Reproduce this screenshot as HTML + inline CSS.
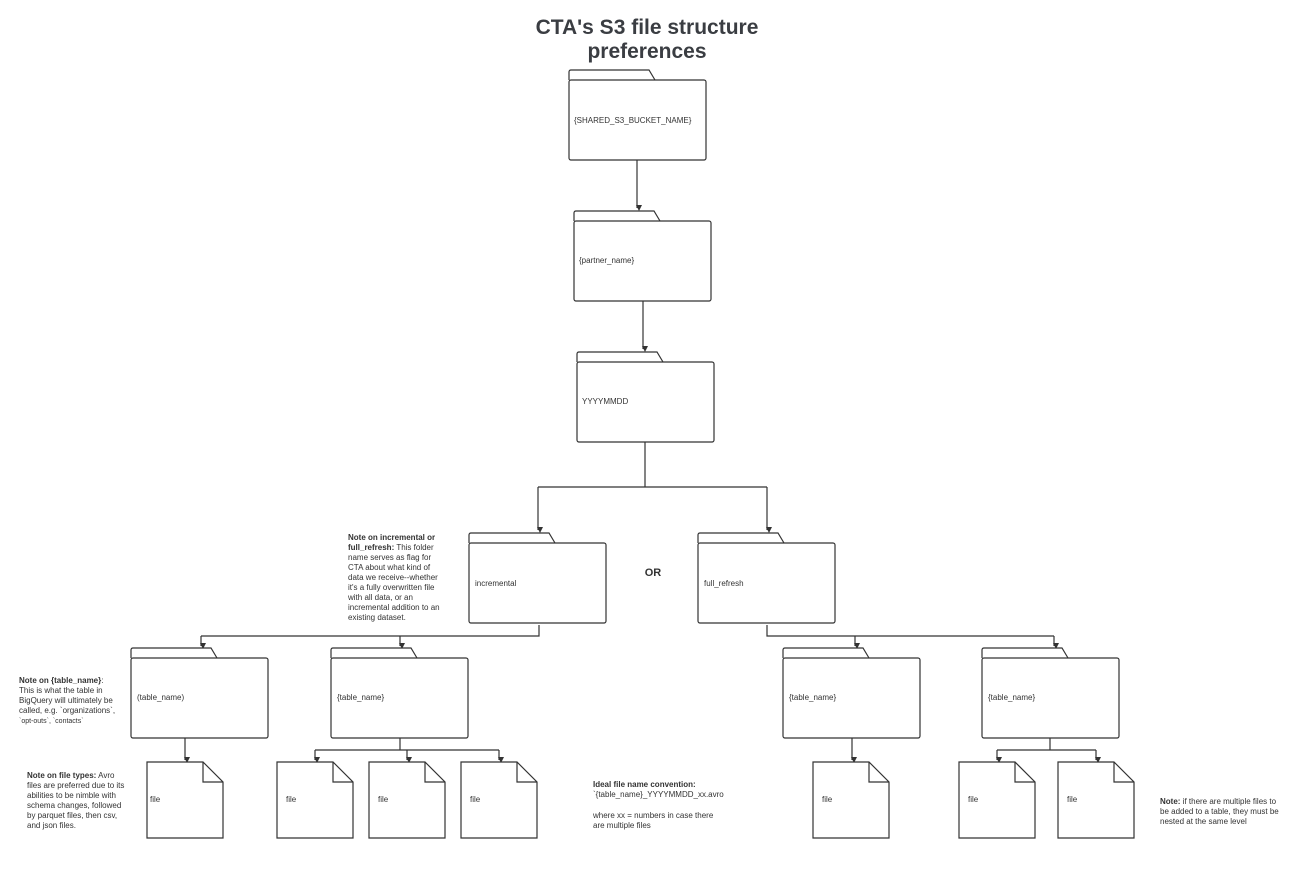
<!DOCTYPE html>
<html><head><meta charset="utf-8"><style>
body{margin:0;background:#fff;}
svg{display:block;font-family:"Liberation Sans",Arial,sans-serif;}
.f{fill:#fff;stroke:#333;stroke-width:1.2;}
.l{fill:none;stroke:#333;stroke-width:1.2;}
.t{font-size:8px;fill:#333;}
.n{font-size:8px;fill:#333;}
</style></head><body>
<svg width="1294" height="875" viewBox="0 0 1294 875" xmlns="http://www.w3.org/2000/svg">
<defs>
<marker id="a" markerWidth="8" markerHeight="8" refX="4" refY="6" orient="auto" markerUnits="userSpaceOnUse" viewBox="0 0 8 8">
<path d="M1,1 L4,7 L7,1 Z" fill="#333" transform="rotate(-90 4 4)"/>
</marker>
<g id="folder">
<path class="f" d="M0,10 L0,2 Q0,0 2,0 L80,0 L86,10"/>
<rect class="f" x="0" y="10" width="137" height="80" rx="2"/>
</g>
<g id="file">
<path class="f" d="M0,0 L56,0 L76,20 L76,76 L0,76 Z"/>
<path class="l" d="M56,0 L56,20 L76,20"/>
</g>
</defs>
<text x="647" y="34" text-anchor="middle" font-size="21" font-weight="bold" fill="#3a3d42">CTA's S3 file structure</text>
<text x="647" y="58" text-anchor="middle" font-size="21" font-weight="bold" fill="#3a3d42">preferences</text>

<!-- connectors -->
<g class="l">
<path d="M637,160 V208" marker-end="url(#a)"/>
<path d="M643,301 V349" marker-end="url(#a)"/>
<path d="M645,442 V487 M538,487 H767"/>
<path d="M538,487 V530" marker-end="url(#a)"/>
<path d="M767,487 V530" marker-end="url(#a)"/>
<path d="M539,625 V636 H201"/>
<path d="M201,636 V646" marker-end="url(#a)"/>
<path d="M400,636 V646" marker-end="url(#a)"/>
<path d="M767,625 V636 H1054"/>
<path d="M855,636 V646" marker-end="url(#a)"/>
<path d="M1054,636 V646" marker-end="url(#a)"/>
<path d="M185,738 V760" marker-end="url(#a)"/>
<path d="M400,738 V750 M315,750 H499"/>
<path d="M315,750 V760" marker-end="url(#a)"/>
<path d="M407,750 V760" marker-end="url(#a)"/>
<path d="M499,750 V760" marker-end="url(#a)"/>
<path d="M852,738 V760" marker-end="url(#a)"/>
<path d="M1050,738 V750 M997,750 H1096"/>
<path d="M997,750 V760" marker-end="url(#a)"/>
<path d="M1096,750 V760" marker-end="url(#a)"/>
</g>

<!-- folders -->
<use href="#folder" x="569" y="70"/><text class="t" x="574" y="123">{SHARED_S3_BUCKET_NAME}</text>
<use href="#folder" x="574" y="211"/><text class="t" x="579" y="263">{partner_name}</text>
<use href="#folder" x="577" y="352"/><text class="t" x="582" y="404">YYYYMMDD</text>
<use href="#folder" x="469" y="533"/><text class="t" x="475" y="586">incremental</text>
<use href="#folder" x="698" y="533"/><text class="t" x="704" y="586">full_refresh</text>
<text x="653" y="576" text-anchor="middle" font-size="11" font-weight="bold" fill="#333">OR</text>
<use href="#folder" x="131" y="648"/><text class="t" x="137" y="700">(table_name)</text>
<use href="#folder" x="331" y="648"/><text class="t" x="337" y="700">{table_name}</text>
<use href="#folder" x="783" y="648"/><text class="t" x="789" y="700">{table_name}</text>
<use href="#folder" x="982" y="648"/><text class="t" x="988" y="700">{table_name}</text>

<!-- files -->
<use href="#file" x="147" y="762"/><text class="t" x="150" y="802">file</text>
<use href="#file" x="277" y="762"/><text class="t" x="286" y="802">file</text>
<use href="#file" x="369" y="762"/><text class="t" x="378" y="802">file</text>
<use href="#file" x="461" y="762"/><text class="t" x="470" y="802">file</text>
<use href="#file" x="813" y="762"/><text class="t" x="822" y="802">file</text>
<use href="#file" x="959" y="762"/><text class="t" x="968" y="802">file</text>
<use href="#file" x="1058" y="762"/><text class="t" x="1067" y="802">file</text>

<!-- notes -->
<g class="n">
<text x="348" y="540"><tspan font-weight="bold">Note on incremental or</tspan></text>
<text x="348" y="550"><tspan font-weight="bold">full_refresh:</tspan> This folder</text>
<text x="348" y="560">name serves as flag for</text>
<text x="348" y="570">CTA about what kind of</text>
<text x="348" y="580">data we receive--whether</text>
<text x="348" y="590">it's a fully overwritten file</text>
<text x="348" y="600">with all data, or an</text>
<text x="348" y="610">incremental addition to an</text>
<text x="348" y="620">existing dataset.</text>

<text x="19" y="683"><tspan font-weight="bold">Note on {table_name}</tspan>:</text>
<text x="19" y="693">This is what the table in</text>
<text x="19" y="703">BigQuery will ultimately be</text>
<text x="19" y="713">called, e.g. `organizations`,</text>
<text x="19" y="723" font-size="7">`opt-outs`, `contacts`</text>

<text x="27" y="778"><tspan font-weight="bold">Note on file types:</tspan> Avro</text>
<text x="27" y="788">files are preferred due to its</text>
<text x="27" y="798">abilities to be nimble with</text>
<text x="27" y="808">schema changes, followed</text>
<text x="27" y="818">by parquet files, then csv,</text>
<text x="27" y="828">and json files.</text>

<text x="593" y="787" font-weight="bold">Ideal file name convention:</text>
<text x="593" y="797">`{table_name}_YYYYMMDD_xx.avro</text>
<text x="593" y="818">where xx = numbers in case there</text>
<text x="593" y="828">are multiple files</text>

<text x="1160" y="804"><tspan font-weight="bold">Note:</tspan> if there are multiple files to</text>
<text x="1160" y="814">be added to a table, they must be</text>
<text x="1160" y="824">nested at the same level</text>
</g>
</svg>
</body></html>
